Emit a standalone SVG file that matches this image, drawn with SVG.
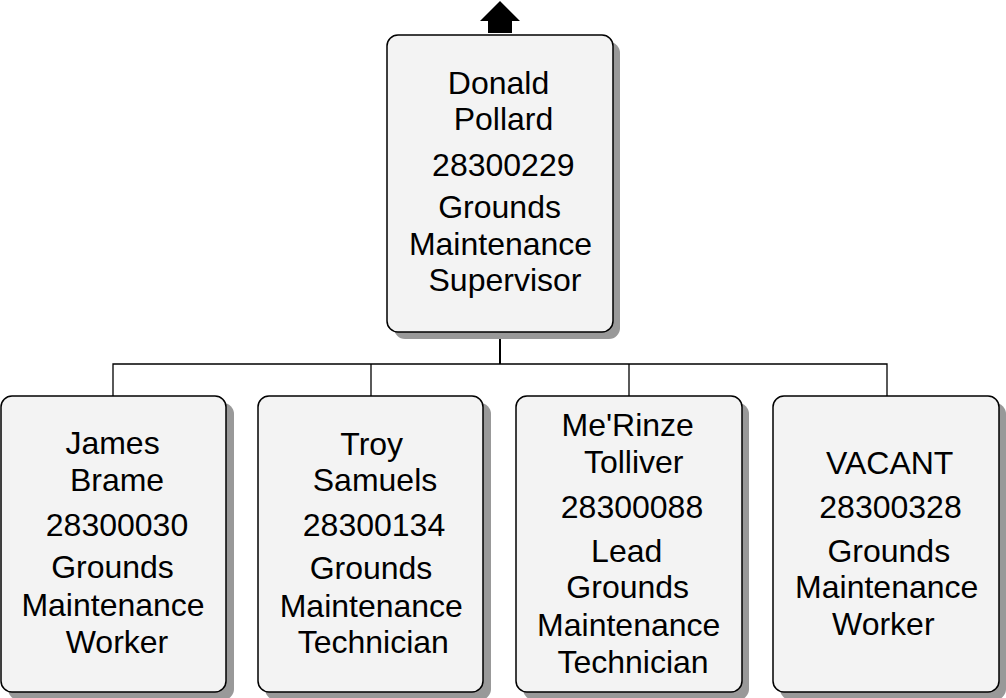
<svg xmlns="http://www.w3.org/2000/svg" width="1006" height="698" viewBox="0 0 1006 698">
<style>
.shadow{fill:#999999;stroke:none}
.box{fill:#f3f3f3;stroke:#000;stroke-width:1.5}
.t{font-family:"Liberation Sans",Arial,sans-serif;font-size:32px;fill:#000;text-anchor:middle}
.conn{fill:none;stroke:#000;stroke-width:1.3}
</style>
<rect width="1006" height="698" fill="#ffffff"/>
<g id="connectors">
<line class="conn" x1="500" y1="332" x2="500" y2="364" style="stroke-width:2"/>
<polyline class="conn" points="113,396 113,364 887,364 887,396"/>
<line class="conn" x1="371" y1="364" x2="371" y2="396"/>
<line class="conn" x1="629" y1="364" x2="629" y2="396"/>
<polygon points="500,1 520,21 512,21 512,33 488,33 488,21 480,21" fill="#000"/>
</g>
<g id="node-donald">
<rect class="shadow" x="394" y="42" width="226" height="297" rx="11"/>
<rect class="box" x="387" y="35" width="226" height="297" rx="11"/>
<text class="t" x="498.5" y="94">Donald</text>
<text class="t" x="503.5" y="130">Pollard</text>
<text class="t" x="503.3" y="175.5">28300229</text>
<text class="t" x="499.6" y="218">Grounds</text>
<text class="t" x="500.5" y="255">Maintenance</text>
<text class="t" x="505" y="291">Supervisor</text>
</g>
<g id="node-james">
<rect class="shadow" x="8" y="403" width="226" height="297" rx="11"/>
<rect class="box" x="1" y="396" width="225" height="296" rx="11"/>
<text class="t" x="112.5" y="454">James</text>
<text class="t" x="117" y="490.5">Brame</text>
<text class="t" x="117" y="535.5">28300030</text>
<text class="t" x="112.5" y="578">Grounds</text>
<text class="t" x="113" y="616">Maintenance</text>
<text class="t" x="117" y="652.5">Worker</text>
</g>
<g id="node-troy">
<rect class="shadow" x="265" y="403" width="226" height="297" rx="11"/>
<rect class="box" x="258" y="396" width="225" height="296" rx="11"/>
<text class="t" x="371.7" y="455">Troy</text>
<text class="t" x="375" y="490.5">Samuels</text>
<text class="t" x="374" y="536">28300134</text>
<text class="t" x="371" y="579">Grounds</text>
<text class="t" x="371.3" y="616.5">Maintenance</text>
<text class="t" x="373.3" y="653">Technician</text>
</g>
<g id="node-merinze">
<rect class="shadow" x="523" y="403" width="226" height="297" rx="11"/>
<rect class="box" x="516" y="396" width="226" height="296" rx="11"/>
<text class="t" x="627.7" y="436">Me'Rinze</text>
<text class="t" x="633.7" y="472.5">Tolliver</text>
<text class="t" x="632" y="518">28300088</text>
<text class="t" x="626.7" y="561.5">Lead</text>
<text class="t" x="627.7" y="598">Grounds</text>
<text class="t" x="628.7" y="636">Maintenance</text>
<text class="t" x="633" y="673">Technician</text>
</g>
<g id="node-vacant">
<rect class="shadow" x="780" y="403" width="226" height="297" rx="11"/>
<rect class="box" x="773" y="396" width="226" height="296" rx="11"/>
<text class="t" x="889.7" y="474">VACANT</text>
<text class="t" x="890.5" y="518">28300328</text>
<text class="t" x="888.8" y="561.5">Grounds</text>
<text class="t" x="886.7" y="598">Maintenance</text>
<text class="t" x="883.3" y="635">Worker</text>
</g>
</svg>
